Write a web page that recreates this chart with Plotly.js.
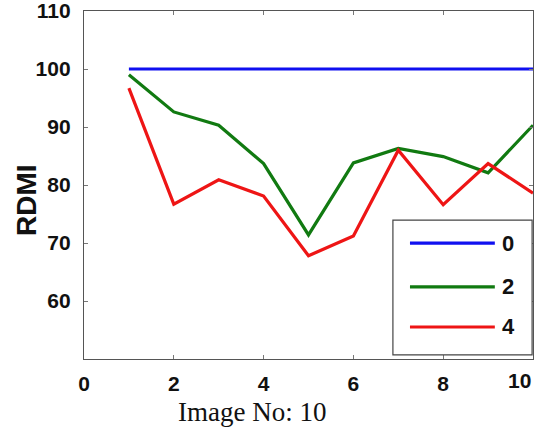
<!DOCTYPE html>
<html>
<head>
<meta charset="utf-8">
<script src="https://cdn.plot.ly/plotly-3.0.1.min.js"></script>
<style>html,body{margin:0;padding:0;background:#fff;}#chart{width:540px;height:433px;}</style>
</head>
<body>
<div id="chart"></div>
<script>
const imageNo = [1, 2, 3, 4, 5, 6, 7, 8, 9, 10];
const series0 = [100, 100, 100, 100, 100, 100, 100, 100, 100, 100];
const series2 = [99.0, 92.6, 90.3, 83.7, 71.4, 83.8, 86.3, 84.9, 82.1, 90.3];
const series4 = [96.7, 76.7, 80.9, 78.1, 67.8, 71.2, 86.0, 76.6, 83.7, 78.6];
const seriesNames = ["0", "2", "4"];
const seriesColors = ["#1010f0", "#117a11", "#ee1515"];
const xTicks = [0, 2, 4, 6, 8, 10];
const yTicks = [60, 70, 80, 90, 100, 110];
const allSeries = [series0, series2, series4];

const traces = allSeries.map((s, i) => ({
  x: imageNo, y: s, type: 'scatter', mode: 'lines', name: seriesNames[i],
  line: {color: seriesColors[i], width: 3.2}, showlegend: false
}));

const tickFont = {family: 'Liberation Sans, Arial', size: 21, color: '#111', weight: 'bold'};

// custom legend (box, line samples, labels)
const legY = [0.333, 0.207, 0.092];
const shapes = [{type: 'rect', xref: 'paper', yref: 'paper', x0: 0.688, x1: 0.998, y0: 0.012, y1: 0.399,
  line: {color: '#444', width: 1.2}, fillcolor: '#fff', layer: 'above'}];
const annotations = [];
seriesNames.forEach((n, i) => {
  shapes.push({type: 'line', xref: 'paper', yref: 'paper', x0: 0.726, x1: 0.915, y0: legY[i], y1: legY[i],
    line: {color: seriesColors[i], width: 3.2}, layer: 'above'});
  annotations.push({xref: 'paper', yref: 'paper', x: 0.945, y: legY[i], text: '<b>' + n + '</b>', showarrow: false,
    font: {family: 'Liberation Sans, Arial', size: 22, color: '#111'}, xanchor: 'center', yanchor: 'middle'});
});
// last x tick label sits right-aligned against the axis end (as in the reference)
const lastX = xTicks[xTicks.length - 1];
annotations.push({xref: 'x', yref: 'paper', x: lastX, y: 0, yshift: -21, text: '<b>' + lastX + '</b>', showarrow: false,
  font: tickFont, xanchor: 'right', yanchor: 'middle'});
annotations.push({xref: 'paper', yref: 'paper', x: 0.374, y: 0, yshift: -53, text: 'Image No: 10', showarrow: false,
  font: {family: 'Liberation Serif, Times New Roman', size: 27, color: '#111'}, xanchor: 'center', yanchor: 'middle'});
annotations.push({xref: 'paper', yref: 'paper', x: 0, xshift: -57, y: 0.457, text: '<b>RDMI</b>', showarrow: false, textangle: -90,
  font: {family: 'Liberation Sans, Arial', size: 28, color: '#111'}, xanchor: 'center', yanchor: 'middle'});

const axisCommon = {
  showgrid: false, zeroline: false, showline: true, linecolor: '#555', linewidth: 1.2, mirror: 'ticks',
  ticks: 'inside', ticklen: 4, tickcolor: '#777', tickwidth: 1, ticklabeloverflow: 'allow',
  tickfont: tickFont
};

const layout = {
  width: 540, height: 433,
  margin: {l: 84, r: 7, t: 11, b: 74},
  paper_bgcolor: '#fff', plot_bgcolor: '#fff',
  xaxis: Object.assign({}, axisCommon, {range: [0, 10], tickvals: xTicks,
    ticktext: xTicks.map((v, i) => i === xTicks.length - 1 ? '' : String(v)), ticklabelstandoff: 6, automargin: false}),
  yaxis: Object.assign({}, axisCommon, {range: [50, 110], tickvals: yTicks, ticktext: yTicks.map(String), ticklabelstandoff: 8, automargin: false}),
  shapes: shapes, annotations: annotations, showlegend: false
};

Plotly.newPlot('chart', traces, layout, {displayModeBar: false, staticPlot: true});
</script>
</body>
</html>
